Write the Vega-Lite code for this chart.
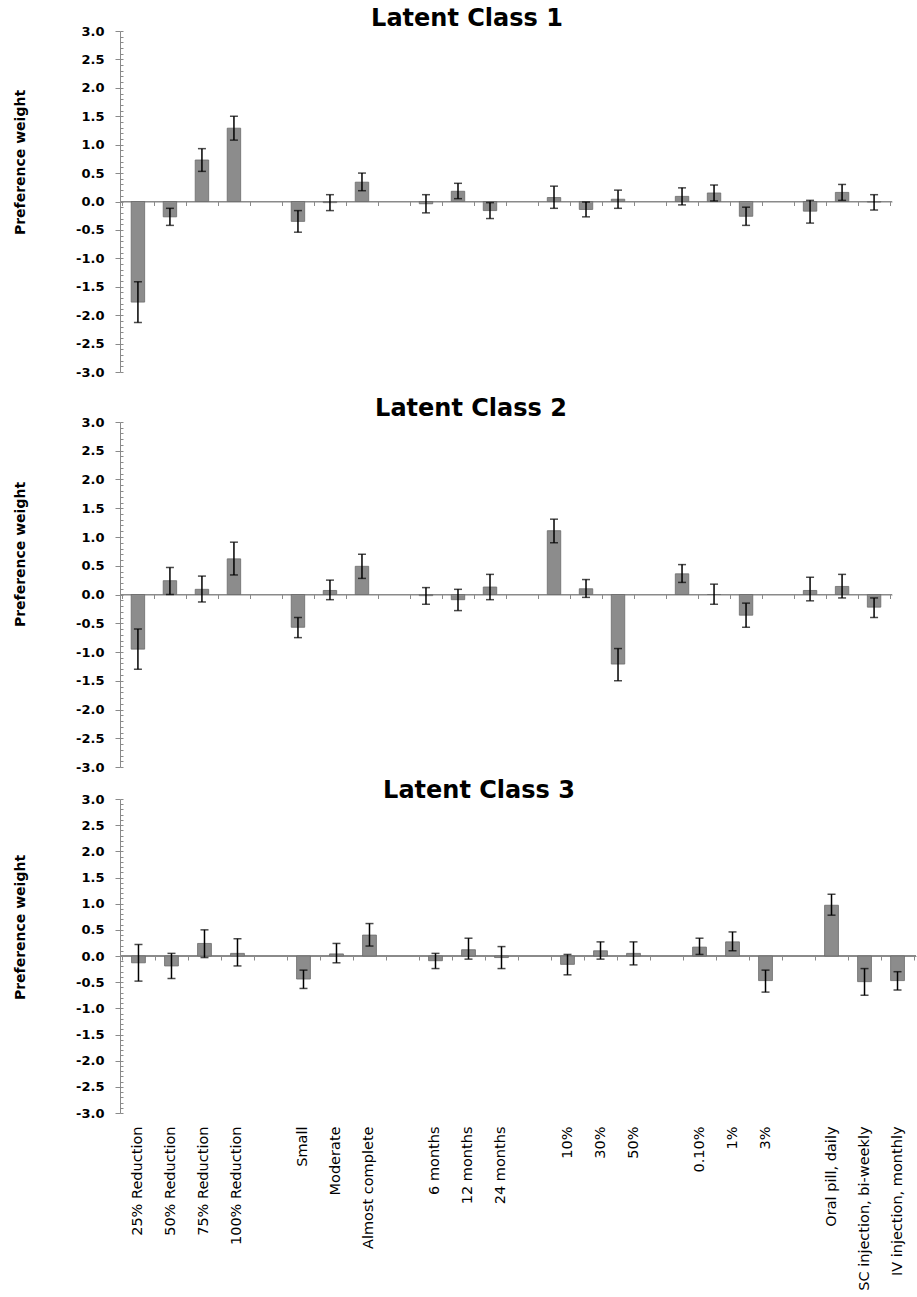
{
  "$schema": "https://vega.github.io/schema/vega-lite/v6.json",
  "padding": {"left": 13, "top": 7, "right": 0, "bottom": 0},
  "background": "white",
  "config": {
    "view": {"stroke": null},
    "axis": {"labelFont": "DejaVu Sans", "titleFont": "DejaVu Sans", "grid": false},
    "title": {"font": "DejaVu Sans", "fontSize": 24, "fontWeight": "bold", "color": "black", "anchor": "middle", "frame": "group"}
  },
  "datasets": {
    "d": [
      {"cls": 1, "cat": "25% Reduction", "mean": -1.77, "lo": -2.13, "hi": -1.41},
      {"cls": 1, "cat": "50% Reduction", "mean": -0.27, "lo": -0.42, "hi": -0.12},
      {"cls": 1, "cat": "75% Reduction", "mean": 0.73, "lo": 0.53, "hi": 0.93},
      {"cls": 1, "cat": "100% Reduction", "mean": 1.29, "lo": 1.08, "hi": 1.50},
      {"cls": 1, "cat": "Small", "mean": -0.35, "lo": -0.54, "hi": -0.16},
      {"cls": 1, "cat": "Moderate", "mean": -0.02, "lo": -0.16, "hi": 0.12},
      {"cls": 1, "cat": "Almost complete", "mean": 0.34, "lo": 0.19, "hi": 0.50},
      {"cls": 1, "cat": "6 months", "mean": -0.04, "lo": -0.20, "hi": 0.12},
      {"cls": 1, "cat": "12 months", "mean": 0.18, "lo": 0.05, "hi": 0.32},
      {"cls": 1, "cat": "24 months", "mean": -0.16, "lo": -0.30, "hi": -0.02},
      {"cls": 1, "cat": "10%", "mean": 0.07, "lo": -0.12, "hi": 0.27},
      {"cls": 1, "cat": "30%", "mean": -0.14, "lo": -0.27, "hi": -0.01},
      {"cls": 1, "cat": "50%", "mean": 0.04, "lo": -0.12, "hi": 0.20},
      {"cls": 1, "cat": "0.10%", "mean": 0.09, "lo": -0.06, "hi": 0.24},
      {"cls": 1, "cat": "1%", "mean": 0.15, "lo": 0.01, "hi": 0.29},
      {"cls": 1, "cat": "3%", "mean": -0.26, "lo": -0.42, "hi": -0.10},
      {"cls": 1, "cat": "Oral pill, daily", "mean": -0.17, "lo": -0.38, "hi": 0.02},
      {"cls": 1, "cat": "SC injection, bi-weekly", "mean": 0.16, "lo": 0.02, "hi": 0.30},
      {"cls": 1, "cat": "IV injection, monthly", "mean": -0.01, "lo": -0.15, "hi": 0.12},
      {"cls": 2, "cat": "25% Reduction", "mean": -0.95, "lo": -1.30, "hi": -0.60},
      {"cls": 2, "cat": "50% Reduction", "mean": 0.24, "lo": 0.00, "hi": 0.47},
      {"cls": 2, "cat": "75% Reduction", "mean": 0.09, "lo": -0.13, "hi": 0.32},
      {"cls": 2, "cat": "100% Reduction", "mean": 0.62, "lo": 0.34, "hi": 0.91},
      {"cls": 2, "cat": "Small", "mean": -0.57, "lo": -0.75, "hi": -0.40},
      {"cls": 2, "cat": "Moderate", "mean": 0.07, "lo": -0.09, "hi": 0.25},
      {"cls": 2, "cat": "Almost complete", "mean": 0.49, "lo": 0.28, "hi": 0.70},
      {"cls": 2, "cat": "6 months", "mean": -0.02, "lo": -0.17, "hi": 0.12},
      {"cls": 2, "cat": "12 months", "mean": -0.09, "lo": -0.28, "hi": 0.09},
      {"cls": 2, "cat": "24 months", "mean": 0.13, "lo": -0.09, "hi": 0.35},
      {"cls": 2, "cat": "10%", "mean": 1.11, "lo": 0.90, "hi": 1.31},
      {"cls": 2, "cat": "30%", "mean": 0.10, "lo": -0.05, "hi": 0.26},
      {"cls": 2, "cat": "50%", "mean": -1.21, "lo": -1.50, "hi": -0.94},
      {"cls": 2, "cat": "0.10%", "mean": 0.36, "lo": 0.21, "hi": 0.52},
      {"cls": 2, "cat": "1%", "mean": 0.00, "lo": -0.17, "hi": 0.18},
      {"cls": 2, "cat": "3%", "mean": -0.36, "lo": -0.57, "hi": -0.15},
      {"cls": 2, "cat": "Oral pill, daily", "mean": 0.07, "lo": -0.11, "hi": 0.30},
      {"cls": 2, "cat": "SC injection, bi-weekly", "mean": 0.14, "lo": -0.06, "hi": 0.35},
      {"cls": 2, "cat": "IV injection, monthly", "mean": -0.22, "lo": -0.40, "hi": -0.06},
      {"cls": 3, "cat": "25% Reduction", "mean": -0.13, "lo": -0.48, "hi": 0.22},
      {"cls": 3, "cat": "50% Reduction", "mean": -0.19, "lo": -0.43, "hi": 0.05},
      {"cls": 3, "cat": "75% Reduction", "mean": 0.24, "lo": -0.03, "hi": 0.50},
      {"cls": 3, "cat": "100% Reduction", "mean": 0.05, "lo": -0.19, "hi": 0.33},
      {"cls": 3, "cat": "Small", "mean": -0.44, "lo": -0.62, "hi": -0.27},
      {"cls": 3, "cat": "Moderate", "mean": 0.04, "lo": -0.13, "hi": 0.24},
      {"cls": 3, "cat": "Almost complete", "mean": 0.40, "lo": 0.19, "hi": 0.62},
      {"cls": 3, "cat": "6 months", "mean": -0.09, "lo": -0.24, "hi": 0.05},
      {"cls": 3, "cat": "12 months", "mean": 0.12, "lo": -0.06, "hi": 0.34},
      {"cls": 3, "cat": "24 months", "mean": -0.03, "lo": -0.24, "hi": 0.18},
      {"cls": 3, "cat": "10%", "mean": -0.16, "lo": -0.36, "hi": 0.03},
      {"cls": 3, "cat": "30%", "mean": 0.10, "lo": -0.06, "hi": 0.27},
      {"cls": 3, "cat": "50%", "mean": 0.05, "lo": -0.17, "hi": 0.27},
      {"cls": 3, "cat": "0.10%", "mean": 0.17, "lo": 0.03, "hi": 0.34},
      {"cls": 3, "cat": "1%", "mean": 0.27, "lo": 0.10, "hi": 0.46},
      {"cls": 3, "cat": "3%", "mean": -0.47, "lo": -0.69, "hi": -0.27},
      {"cls": 3, "cat": "Oral pill, daily", "mean": 0.97, "lo": 0.78, "hi": 1.18},
      {"cls": 3, "cat": "SC injection, bi-weekly", "mean": -0.49, "lo": -0.75, "hi": -0.24},
      {"cls": 3, "cat": "IV injection, monthly", "mean": -0.47, "lo": -0.65, "hi": -0.30}
    ]
  },
  "spacing": 18,
  "vconcat": [
    {
      "width": 772, "height": 341,
      "title": {"text": "Latent Class 1", "dx": -39, "offset": -6},
      "data": {"name": "d"},
      "transform": [{"filter": "datum.cls == 1"}],
      "layer": [
        {
          "mark": {"type": "rule", "color": "#8a8a8a", "strokeWidth": 1.2},
          "encoding": {"y": {"datum": 0, "axis": null}}
        },
        {
          "mark": {"type": "bar", "width": {"band": 0.42}, "fill": "#8c8c8c", "stroke": "#6b6b6b", "strokeWidth": 0.8},
          "encoding": {
            "x": {"field": "cat", "type": "nominal", "sort": null,
              "scale": {"domain": ["25% Reduction","50% Reduction","75% Reduction","100% Reduction","gap1","Small","Moderate","Almost complete","gap2","6 months","12 months","24 months","gap3","10%","30%","50%","gap4","0.10%","1%","3%","gap5","Oral pill, daily","SC injection, bi-weekly","IV injection, monthly"], "paddingInner": 0, "paddingOuter": 0.06},
              "axis": {"orient": "bottom", "offset": -170.5, "labels": false, "title": null, "domainColor": "#8a8a8a", "tickColor": "#8a8a8a", "tickSize": 4, "tickBand": "extent"}},
            "y": {"field": "mean", "type": "quantitative",
              "scale": {"domain": [-3, 3], "nice": false},
              "axis": {"orient": "left", "values": [-3,-2.5,-2,-1.5,-1,-0.5,0,0.5,1,1.5,2,2.5,3], "format": ".1f", "labelExpr": "replace(datum.label, '\u2212', '-')", "labelFontWeight": "bold", "labelFontSize": 13, "labelColor": "black", "labelPadding": 11, "tickSize": 5, "tickColor": "#8a8a8a", "domainColor": "#8a8a8a", "title": "Preference weight", "titleFontSize": 14, "titleFontWeight": "bold", "titleColor": "black", "titleX": -100, "titleY": 131, "titleAngle": 270, "titleAlign": "center", "titleBaseline": "middle"}}
          }
        },
        {
          "mark": {"type": "rule", "color": "black", "strokeWidth": 1.5},
          "encoding": {
            "x": {"field": "cat", "type": "nominal", "axis": null},
            "y": {"field": "lo", "type": "quantitative", "axis": {"orient": "left", "values": [-3,-2.9,-2.8,-2.7,-2.6,-2.5,-2.4,-2.3,-2.2,-2.1,-2,-1.9,-1.8,-1.7,-1.6,-1.5,-1.4,-1.3,-1.2,-1.1,-1,-0.9,-0.8,-0.7,-0.6,-0.5,-0.4,-0.3,-0.2,-0.1,0,0.1,0.2,0.3,0.4,0.5,0.6,0.7,0.8,0.9,1,1.1,1.2,1.3,1.4,1.5,1.6,1.7,1.8,1.9,2,2.1,2.2,2.3,2.4,2.5,2.6,2.7,2.8,2.9,3], "labels": false, "domain": false, "tickSize": -3, "tickColor": "#8a8a8a", "title": null}},
            "y2": {"field": "hi"}
          }
        },
        {
          "mark": {"type": "tick", "color": "black", "thickness": 1.5, "size": 8},
          "encoding": {"x": {"field": "cat", "type": "nominal", "axis": null}, "y": {"field": "lo", "type": "quantitative", "axis": null}}
        },
        {
          "mark": {"type": "tick", "color": "black", "thickness": 1.5, "size": 8},
          "encoding": {"x": {"field": "cat", "type": "nominal", "axis": null}, "y": {"field": "hi", "type": "quantitative", "axis": null}}
        }
      ],
      "resolve": {"axis": {"x": "independent", "y": "independent"}}
    },
    {
      "spacing": 5,
      "vconcat": [
        {
          "width": 772, "height": 345,
          "title": {"text": "Latent Class 2", "dx": -35, "offset": -5},
          "data": {"name": "d"},
          "transform": [{"filter": "datum.cls == 2"}],
          "layer": [
            {
              "mark": {"type": "rule", "color": "#8a8a8a", "strokeWidth": 1.2},
              "encoding": {"y": {"datum": 0, "axis": null}}
            },
            {
              "mark": {"type": "bar", "width": {"band": 0.42}, "fill": "#8c8c8c", "stroke": "#6b6b6b", "strokeWidth": 0.8},
              "encoding": {
                "x": {"field": "cat", "type": "nominal", "sort": null,
                  "scale": {"domain": ["25% Reduction","50% Reduction","75% Reduction","100% Reduction","gap1","Small","Moderate","Almost complete","gap2","6 months","12 months","24 months","gap3","10%","30%","50%","gap4","0.10%","1%","3%","gap5","Oral pill, daily","SC injection, bi-weekly","IV injection, monthly"], "paddingInner": 0, "paddingOuter": 0.06},
                  "axis": {"orient": "bottom", "offset": -172.5, "labels": false, "title": null, "domainColor": "#8a8a8a", "tickColor": "#8a8a8a", "tickSize": 4, "tickBand": "extent"}},
                "y": {"field": "mean", "type": "quantitative",
                  "scale": {"domain": [-3, 3], "nice": false},
                  "axis": {"orient": "left", "values": [-3,-2.5,-2,-1.5,-1,-0.5,0,0.5,1,1.5,2,2.5,3], "format": ".1f", "labelExpr": "replace(datum.label, '\u2212', '-')", "labelFontWeight": "bold", "labelFontSize": 13, "labelColor": "black", "labelPadding": 11, "tickSize": 5, "tickColor": "#8a8a8a", "domainColor": "#8a8a8a", "title": "Preference weight", "titleFontSize": 14, "titleFontWeight": "bold", "titleColor": "black", "titleX": -100, "titleY": 132, "titleAngle": 270, "titleAlign": "center", "titleBaseline": "middle"}}
              }
            },
            {
              "mark": {"type": "rule", "color": "black", "strokeWidth": 1.5},
              "encoding": {
                "x": {"field": "cat", "type": "nominal", "axis": null},
                "y": {"field": "lo", "type": "quantitative", "axis": {"orient": "left", "values": [-3,-2.9,-2.8,-2.7,-2.6,-2.5,-2.4,-2.3,-2.2,-2.1,-2,-1.9,-1.8,-1.7,-1.6,-1.5,-1.4,-1.3,-1.2,-1.1,-1,-0.9,-0.8,-0.7,-0.6,-0.5,-0.4,-0.3,-0.2,-0.1,0,0.1,0.2,0.3,0.4,0.5,0.6,0.7,0.8,0.9,1,1.1,1.2,1.3,1.4,1.5,1.6,1.7,1.8,1.9,2,2.1,2.2,2.3,2.4,2.5,2.6,2.7,2.8,2.9,3], "labels": false, "domain": false, "tickSize": -3, "tickColor": "#8a8a8a", "title": null}},
                "y2": {"field": "hi"}
              }
            },
            {
              "mark": {"type": "tick", "color": "black", "thickness": 1.5, "size": 8},
              "encoding": {"x": {"field": "cat", "type": "nominal", "axis": null}, "y": {"field": "lo", "type": "quantitative", "axis": null}}
            },
            {
              "mark": {"type": "tick", "color": "black", "thickness": 1.5, "size": 8},
              "encoding": {"x": {"field": "cat", "type": "nominal", "axis": null}, "y": {"field": "hi", "type": "quantitative", "axis": null}}
            }
          ],
          "resolve": {"axis": {"x": "independent", "y": "independent"}}
        },
        {
          "width": 796, "height": 314,
          "title": {"text": "Latent Class 3", "dx": -39, "offset": -10},
          "data": {"name": "d"},
          "transform": [{"filter": "datum.cls == 3"}],
          "layer": [
            {
              "mark": {"type": "rule", "color": "#8a8a8a", "strokeWidth": 1.2},
              "encoding": {"y": {"datum": 0, "axis": null}}
            },
            {
              "mark": {"type": "bar", "width": {"band": 0.42}, "fill": "#8c8c8c", "stroke": "#6b6b6b", "strokeWidth": 0.8},
              "encoding": {
                "x": {"field": "cat", "type": "nominal", "sort": null,
                  "scale": {"domain": ["25% Reduction","50% Reduction","75% Reduction","100% Reduction","gap1","Small","Moderate","Almost complete","gap2","6 months","12 months","24 months","gap3","10%","30%","50%","gap4","0.10%","1%","3%","gap5","Oral pill, daily","SC injection, bi-weekly","IV injection, monthly"], "paddingInner": 0, "paddingOuter": 0.06},
                  "axis": {"orient": "bottom", "labels": true, "ticks": false, "domain": false, "title": null, "labelAngle": -90, "labelAlign": "right", "labelBaseline": "middle", "labelFontSize": 14.5, "labelColor": "black", "labelPadding": 13, "labelOverlap": false, "labelLimit": 0, "labelExpr": "slice(datum.value, 0, 3) == 'gap' ? '' : datum.value"}},
                "y": {"field": "mean", "type": "quantitative",
                  "scale": {"domain": [-3, 3], "nice": false},
                  "axis": {"orient": "left", "values": [-3,-2.5,-2,-1.5,-1,-0.5,0,0.5,1,1.5,2,2.5,3], "format": ".1f", "labelExpr": "replace(datum.label, '\u2212', '-')", "labelFontWeight": "bold", "labelFontSize": 13, "labelColor": "black", "labelPadding": 11, "tickSize": 5, "tickColor": "#8a8a8a", "domainColor": "#8a8a8a", "title": "Preference weight", "titleFontSize": 14, "titleFontWeight": "bold", "titleColor": "black", "titleX": -100, "titleY": 128, "titleAngle": 270, "titleAlign": "center", "titleBaseline": "middle"}}
              }
            },
            {
              "mark": {"type": "rule", "color": "black", "strokeWidth": 1.5},
              "encoding": {
                "x": {"field": "cat", "type": "nominal", "axis": {"orient": "bottom", "offset": -157, "labels": false, "title": null, "domainColor": "#8a8a8a", "tickColor": "#8a8a8a", "tickSize": 4, "tickBand": "extent"}},
                "y": {"field": "lo", "type": "quantitative", "axis": {"orient": "left", "values": [-3,-2.9,-2.8,-2.7,-2.6,-2.5,-2.4,-2.3,-2.2,-2.1,-2,-1.9,-1.8,-1.7,-1.6,-1.5,-1.4,-1.3,-1.2,-1.1,-1,-0.9,-0.8,-0.7,-0.6,-0.5,-0.4,-0.3,-0.2,-0.1,0,0.1,0.2,0.3,0.4,0.5,0.6,0.7,0.8,0.9,1,1.1,1.2,1.3,1.4,1.5,1.6,1.7,1.8,1.9,2,2.1,2.2,2.3,2.4,2.5,2.6,2.7,2.8,2.9,3], "labels": false, "domain": false, "tickSize": -3, "tickColor": "#8a8a8a", "title": null}},
                "y2": {"field": "hi"}
              }
            },
            {
              "mark": {"type": "tick", "color": "black", "thickness": 1.5, "size": 8},
              "encoding": {"x": {"field": "cat", "type": "nominal", "axis": null}, "y": {"field": "lo", "type": "quantitative", "axis": null}}
            },
            {
              "mark": {"type": "tick", "color": "black", "thickness": 1.5, "size": 8},
              "encoding": {"x": {"field": "cat", "type": "nominal", "axis": null}, "y": {"field": "hi", "type": "quantitative", "axis": null}}
            }
          ],
          "resolve": {"axis": {"x": "independent", "y": "independent"}}
        }
      ]
    }
  ]
}
